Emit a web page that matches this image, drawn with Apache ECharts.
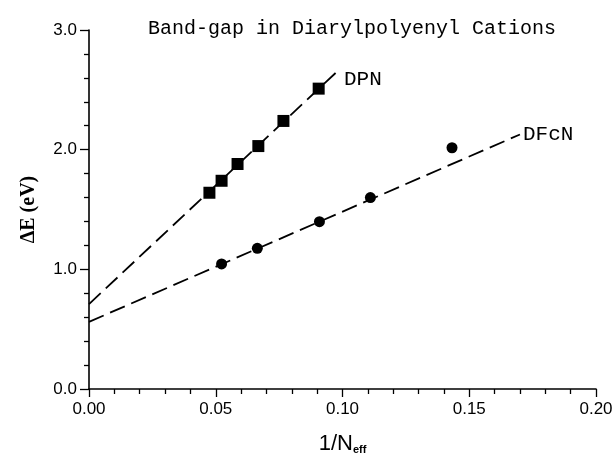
<!DOCTYPE html>
<html><head><meta charset="utf-8">
<script src="https://cdn.jsdelivr.net/npm/echarts@6/dist/echarts.min.js"></script>
<style>html,body{margin:0;padding:0;background:#fff}#c{width:616px;height:460px}</style>
</head><body><div id="c"></div>
<script>
// ---- data ----
const titleText = 'Band-gap in Diarylpolyenyl Cations';
const xAxisName = '1/N';
const xAxisSub = 'eff';
const yAxisName = '\u0394E (eV)';
const dpnX = [0.0475, 0.0523, 0.0586, 0.0668, 0.0767, 0.0906];
const dpnY = [1.64, 1.74, 1.88, 2.03, 2.24, 2.51];
const dfcnX = [0.0523, 0.0664, 0.0909, 0.111, 0.1432];
const dfcnY = [1.045, 1.176, 1.398, 1.600, 2.016];
const dpnFitX = [0, 0.099];
const dpnFitY = [0.709, 2.675];
const dfcnFitX = [0, 0.170];
const dfcnFitY = [0.561, 2.127];
const seriesNames = ['DPN', 'DFcN'];
const xMin = 0, xMax = 0.20, xStep = 0.05;
const yMin = 0, yMax = 3.0, yStep = 1.0;

const pairs = (xs, ys) => xs.map((x, i) => [x, ys[i]]);
const ink = '#000';
const mono = '"Liberation Mono", "DejaVu Sans Mono", monospace';
const sans = '"Liberation Sans", Arial, sans-serif';
const serif = '"Liberation Serif", "DejaVu Serif", serif';

const chart = echarts.init(document.getElementById('c'), null, {renderer: 'canvas'});
chart.setOption({
  backgroundColor: '#fff',
  animation: false,
  title: {
    text: titleText, left: 347, top: 14, textAlign: 'center',
    textStyle: {fontFamily: mono, fontSize: 20, fontWeight: 'normal', color: ink}
  },
  grid: {left: 89, right: 20, top: 30, bottom: 64},
  xAxis: {
    type: 'value', min: xMin, max: xMax, interval: xStep,
    name: xAxisName + '{sub|' + xAxisSub + '}',
    nameLocation: 'middle', nameGap: 44,
    nameTextStyle: {fontFamily: sans, fontSize: 22, color: ink,
      rich: {sub: {fontFamily: sans, fontSize: 11, fontWeight: 'bold', color: ink, verticalAlign: 'bottom', padding: [10, 0, 0, 0]}}},
    axisLine: {show: true, onZero: false, lineStyle: {color: ink, width: 1.6}},
    axisTick: {show: true, inside: false, length: 8, lineStyle: {color: ink, width: 1.3}},
    minorTick: {show: true, splitNumber: 5, length: 5, lineStyle: {color: ink, width: 1.3}},
    splitLine: {show: false},
    axisLabel: {margin: 12, fontFamily: sans, fontSize: 17, color: ink, formatter: v => v.toFixed(2)}
  },
  yAxis: {
    type: 'value', min: yMin, max: yMax, interval: yStep,
    name: yAxisName, nameLocation: 'middle', nameGap: 50, nameRotate: 90,
    nameTextStyle: {fontFamily: serif, fontSize: 20, fontWeight: 'bold', color: ink},
    axisLine: {show: true, onZero: false, lineStyle: {color: ink, width: 1.6}},
    axisTick: {show: true, inside: false, length: 9, lineStyle: {color: ink, width: 1.3}},
    minorTick: {show: true, splitNumber: 5, length: 5, lineStyle: {color: ink, width: 1.3}},
    splitLine: {show: false},
    axisLabel: {margin: 12, fontFamily: sans, fontSize: 17, color: ink, formatter: v => v.toFixed(1)}
  },
  series: [
    {
      type: 'line', name: seriesNames[0] + ' fit', data: pairs(dpnFitX, dpnFitY),
      showSymbol: false, symbol: 'none', z: 1,
      lineStyle: {color: ink, width: 1.8, type: [16, 7]},
      endLabel: {show: true, formatter: seriesNames[0], offset: [-4, 11],
        fontFamily: mono, fontSize: 21, color: ink}
    },
    {
      type: 'line', name: seriesNames[1] + ' fit', data: pairs(dfcnFitX, dfcnFitY),
      showSymbol: false, symbol: 'none', z: 1,
      lineStyle: {color: ink, width: 1.8, type: [16, 7]},
      endLabel: {show: true, formatter: seriesNames[1], offset: [-5, 0],
        fontFamily: mono, fontSize: 21, color: ink}
    },
    {
      type: 'scatter', name: seriesNames[0], data: pairs(dpnX, dpnY),
      symbol: 'rect', symbolSize: 12, z: 3,
      itemStyle: {color: '#000', opacity: 1}
    },
    {
      type: 'scatter', name: seriesNames[1], data: pairs(dfcnX, dfcnY),
      symbol: 'circle', symbolSize: 11, z: 3,
      itemStyle: {color: '#000', opacity: 1}
    }
  ]
});
</script>
</body></html>
